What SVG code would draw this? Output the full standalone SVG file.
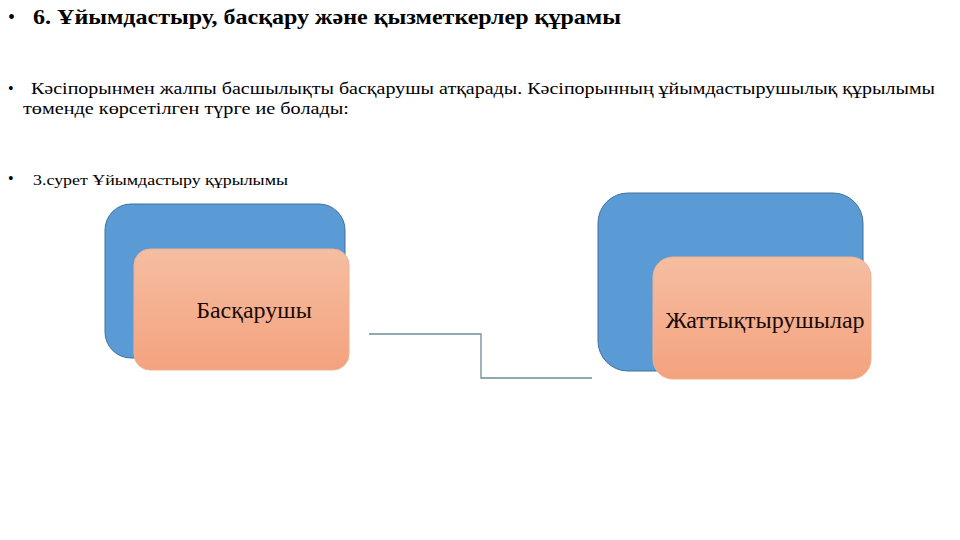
<svg xmlns="http://www.w3.org/2000/svg" width="960" height="540" viewBox="0 0 960 540">
<defs>
<linearGradient id="og" x1="0" y1="0" x2="0" y2="1">
<stop offset="0" stop-color="#f5bea2"/>
<stop offset="1" stop-color="#f4a27e"/>
</linearGradient>
<style>
.t{font-family:"Liberation Serif","DejaVu Serif",serif;fill:#000}
.blue{fill:#5b9bd5;stroke:#41719c;stroke-width:1}
.orange{fill:url(#og);stroke:#f0b090;stroke-width:1}
.conn{fill:none;stroke:#6a8f96;stroke-width:1.3}
.lbl{font-family:"Liberation Serif","DejaVu Serif",serif;font-size:24px;fill:#1a0a05;text-anchor:middle}
</style>
</defs>
<rect width="960" height="540" fill="#ffffff"/>
<g id="title">
<text class="t" x="8" y="24" font-size="20">•</text>
<text class="t" x="33" y="24" font-size="21" font-weight="bold" textLength="588" lengthAdjust="spacingAndGlyphs">6. Ұйымдастыру, басқару және қызметкерлер құрамы</text>
</g>
<g id="body">
<text class="t" x="8" y="94" font-size="16">•</text>
<text class="t" x="31" y="94" font-size="17" textLength="904" lengthAdjust="spacingAndGlyphs">Кәсіпорынмен жалпы басшылықты басқарушы атқарады. Кәсіпорынның ұйымдастырушылық құрылымы</text>
<text class="t" x="23" y="114" font-size="17" textLength="326" lengthAdjust="spacingAndGlyphs">төменде көрсетілген түрге ие болады:</text>
<text class="t" x="8" y="184" font-size="16">•</text>
<text class="t" x="33" y="185" font-size="15" textLength="255" lengthAdjust="spacingAndGlyphs">3.сурет Ұйымдастыру құрылымы</text>
</g>
<g id="connectors">
<polyline class="conn" points="369,334 481,334 481,378 592,378"/>
</g>
<g id="node-baskarushy">
<rect class="blue" x="105" y="204" width="240" height="154" rx="26"/>
<rect class="orange" x="134" y="249" width="215" height="121" rx="16"/>
<text class="lbl" x="254" y="318">Басқарушы</text>
</g>
<g id="node-zhattyktyrushylar">
<rect class="blue" x="598" y="193" width="265" height="178" rx="30"/>
<rect class="orange" x="653" y="257" width="218" height="122" rx="20"/>
<text class="lbl" x="765" y="328">Жаттықтырушылар</text>
</g>
</svg>
